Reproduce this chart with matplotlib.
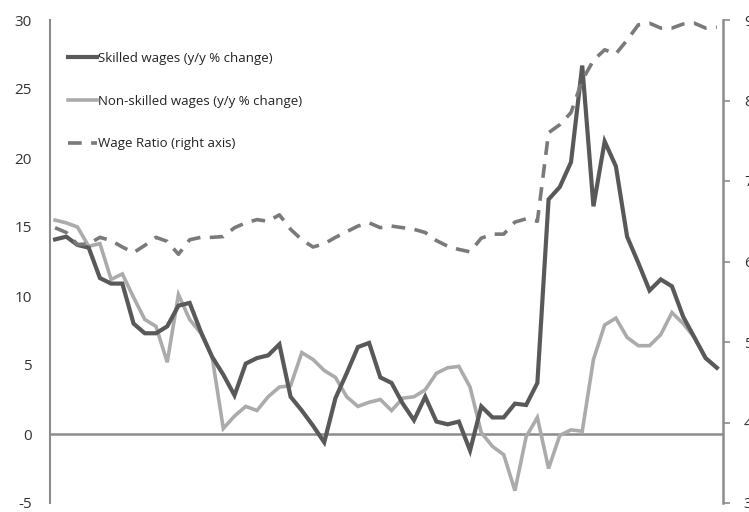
import matplotlib
matplotlib.use("Agg")
import matplotlib.pyplot as plt
import numpy as np

skilled = [14.1, 14.3, 13.7, 13.5, 11.3, 10.9, 10.9, 8.0, 7.3, 7.3,
           7.8, 9.3, 9.5, 7.4, 5.6, 4.3, 2.8, 5.1, 5.5, 5.7,
           6.5, 2.7, 1.7, 0.6, -0.6, 2.6, 4.4, 6.3, 6.6, 4.1,
           3.7, 2.2, 1.0, 2.7, 0.9, 0.7, 0.9, -1.2, 2.0, 1.2,
           1.2, 2.2, 2.1, 3.7, 17.0, 17.9, 19.7, 26.7, 16.5, 21.2,
           19.4, 14.3, 12.4, 10.4, 11.2, 10.7, 8.5, 7.0, 5.5, 4.8]

non_skilled = [15.5, 15.3, 15.0, 13.6, 13.8, 11.2, 11.6, 9.9, 8.3, 7.8,
               5.2, 10.1, 8.3, 7.3, 5.6, 0.4, 1.3, 2.0, 1.7, 2.7,
               3.4, 3.5, 5.9, 5.4, 4.6, 4.1, 2.7, 2.0, 2.3, 2.5,
               1.7, 2.6, 2.7, 3.2, 4.4, 4.8, 4.9, 3.4, 0.1, -0.9,
               -1.5, -4.1, -0.2, 1.2, -2.5, -0.1, 0.3, 0.2, 5.4, 7.9,
               8.4, 7.0, 6.4, 6.4, 7.2, 8.8, 8.0, 7.0, 5.5, 4.8]

wage_ratio = [6.42, 6.36, 6.21, 6.22, 6.30, 6.26, 6.18, 6.11, 6.20, 6.30,
              6.25, 6.09, 6.27, 6.30, 6.30, 6.31, 6.42, 6.48, 6.52, 6.50,
              6.58, 6.40, 6.27, 6.18, 6.22, 6.30, 6.37, 6.44, 6.48, 6.42,
              6.44, 6.42, 6.40, 6.36, 6.26, 6.19, 6.15, 6.12, 6.29, 6.34,
              6.34, 6.49, 6.53, 6.50, 7.60, 7.70, 7.85, 8.25, 8.50, 8.63,
              8.58, 8.75, 8.94, 8.96, 8.90, 8.90, 8.95, 8.96, 8.90, 8.91]

left_ticks = [-5, 0, 5, 10, 15, 20, 25, 30]
right_ticks = [3, 4, 5, 6, 7, 8, 9]

labels = ["Skilled wages (y/y % change)",
          "Non-skilled wages (y/y % change)",
          "Wage Ratio (right axis)"]

plt.rcParams['font.family'] = ['Open Sans', 'DejaVu Sans']
plt.rcParams['axes.unicode_minus'] = False

W, H = 749, 512
fig = plt.figure(figsize=(W / 100, H / 100), dpi=100)
ax = fig.add_axes([50 / W, 1 - 503 / H, (723 - 50) / W, (503 - 20) / H])
ax2 = ax.twinx()

x = np.arange(len(skilled))
axis_col = "#8c8c8c"

ax.axhline(0, color=axis_col, lw=1.8, zorder=1)
l1, = ax.plot(x, skilled, color="#595959", lw=3.0, zorder=3, solid_joinstyle='miter')
l2, = ax.plot(x, non_skilled, color="#ababab", lw=2.6, zorder=2, solid_joinstyle='miter')
l3, = ax2.plot(x, wage_ratio, color="#7a7a7a", lw=2.6, dashes=(3.8, 2.6))

ax.set_xlim(-0.45, len(skilled) - 1 + 0.55)
ax.set_ylim(-5, 30)
ax2.set_ylim(3, 9)
ax.set_yticks(left_ticks)
ax2.set_yticks(right_ticks)
ax.set_xticks([])

for s in ["top", "bottom", "right"]:
    ax.spines[s].set_visible(False)
for s in ["top", "bottom", "left"]:
    ax2.spines[s].set_visible(False)
ax.spines["left"].set_color(axis_col)
ax.spines["left"].set_linewidth(1.5)
ax2.spines["right"].set_color(axis_col)
ax2.spines["right"].set_linewidth(1.8)

ax.tick_params(axis='y', length=0, pad=13, labelsize=11, labelcolor="#333333")
ax2.tick_params(axis='y', length=5, width=1.2, color=axis_col, pad=10,
                labelsize=11, labelcolor="#333333")

leg = ax.legend([l1, l2, l3], labels, loc="upper left",
                bbox_to_anchor=(68 / W, 1 - 52 / H), bbox_transform=fig.transFigure,
                frameon=False, fontsize=9.5, handlelength=2.2, handletextpad=0.05,
                labelspacing=2.25, borderaxespad=0, borderpad=0)
for t in leg.get_texts():
    t.set_color("#222222")

fig.savefig("out.png", dpi=100)
